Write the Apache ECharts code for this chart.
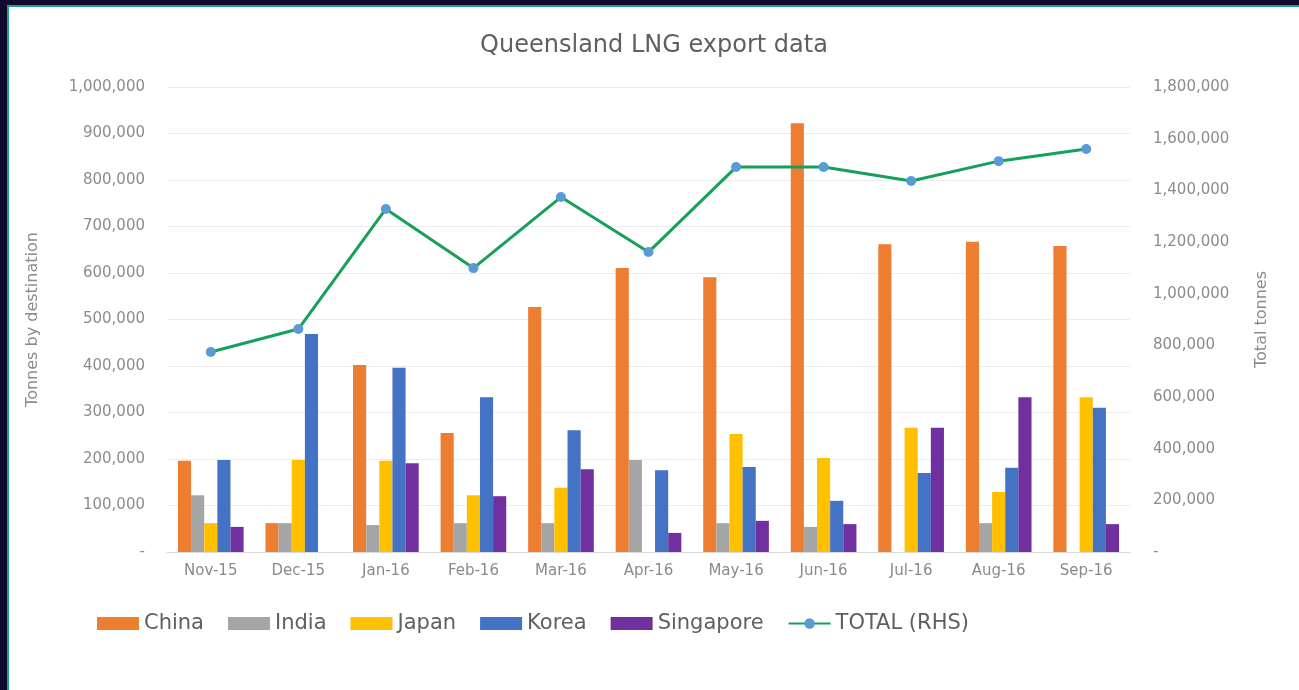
<!DOCTYPE html>
<html>
<head>
<meta charset="utf-8">
<script src="https://cdn.jsdelivr.net/npm/echarts@6/dist/echarts.min.js"></script>
<style>
  html, body { margin: 0; padding: 0; background: #100a2c; overflow: hidden; }
  #frame {
    position: absolute; left: 7px; top: 5px; width: 1290px; height: 683px;
    border-left: 2px solid #1fa08f; border-top: 2px solid #1fa08f;
    background: #fff;
  }
  #chart { width: 100%; height: 100%; }
</style>
</head>
<body>
<div id="frame"><div id="chart"></div></div>
<script>
// months on the x axis
const months = ["Nov-15", "Dec-15", "Jan-16", "Feb-16", "Mar-16", "Apr-16", "May-16", "Jun-16", "Jul-16", "Aug-16", "Sep-16"];

// tonnes by destination
const china     = [196000, 62000, 402000, 256000, 527000, 611000, 591000, 922000, 662000, 667000, 658000];
const india     = [122000, 62000, 58000, 62000, 62000, 198000, 62000, 54000, 0, 62000, 0];
const japan     = [62000, 198000, 196000, 122000, 138000, 0, 254000, 202000, 267000, 129000, 333000];
const korea     = [198000, 469000, 396000, 333000, 262000, 176000, 183000, 110000, 170000, 181000, 310000];
const singapore = [54000, 0, 191000, 120000, 178000, 41000, 67000, 60000, 267000, 333000, 60000];

// total, right hand scale
const total = [774000, 863000, 1328000, 1099000, 1374000, 1161000, 1490000, 1490000, 1436000, 1513000, 1560000];

const font = "DejaVu Sans";
const fmt = v => v === 0 ? "-" : v.toLocaleString("en-US");

const chart = echarts.init(document.getElementById("chart"));

function bar(name, data, color) {
    return {
        name: name,
        type: "bar",
        data: data,
        barGap: "0%",
        barCategoryGap: "25%",
        itemStyle: { color: color },
        animation: false
    };
}

chart.setOption({
    textStyle: { fontFamily: font },
    title: {
        text: "Queensland LNG export data",
        left: "center",
        top: 22,
        textStyle: { fontFamily: font, fontSize: 24, fontWeight: "normal", color: "#5f5f5f" }
    },
    grid: { left: 158, right: 169, top: 80, bottom: 138 },
    legend: {
        left: 83,
        top: 601,
        itemWidth: 42,
        itemHeight: 13,
        itemGap: 24,
        textStyle: { fontSize: 21, color: "#5f5f5f", fontFamily: font },
        data: [
            { name: "China", icon: "rect" },
            { name: "India", icon: "rect" },
            { name: "Japan", icon: "rect" },
            { name: "Korea", icon: "rect" },
            { name: "Singapore", icon: "rect" },
            { name: "TOTAL (RHS)" }
        ]
    },
    xAxis: {
        type: "category",
        data: months,
        axisTick: { show: false },
        axisLine: { lineStyle: { color: "#d9d9d9" } },
        axisLabel: { color: "#8a8a8a", fontSize: 15, margin: 12 }
    },
    yAxis: [
        {
            type: "value",
            min: 0, max: 1000000, interval: 100000,
            name: "Tonnes by destination",
            nameLocation: "middle",
            nameGap: 126,
            nameTextStyle: { color: "#8c8c8c", fontSize: 16 },
            axisLabel: { color: "#8c8c8c", fontSize: 15, margin: 22, formatter: fmt },
            splitLine: { lineStyle: { color: "#ececec" } }
        },
        {
            type: "value",
            min: 0, max: 1800000, interval: 200000,
            name: "Total tonnes",
            nameLocation: "middle",
            nameGap: 124,
            nameRotate: 90,
            nameTextStyle: { color: "#8c8c8c", fontSize: 16 },
            axisLabel: { color: "#8c8c8c", fontSize: 15, margin: 23, formatter: fmt },
            splitLine: { show: false }
        }
    ],
    series: [
        bar("China", china, "#ed7d31"),
        bar("India", india, "#a5a5a5"),
        bar("Japan", japan, "#ffc000"),
        bar("Korea", korea, "#4472c4"),
        bar("Singapore", singapore, "#7030a0"),
        {
            name: "TOTAL (RHS)",
            type: "line",
            yAxisIndex: 1,
            data: total,
            symbol: "circle",
            symbolSize: 10,
            lineStyle: { color: "#16a05a", width: 3 },
            itemStyle: { color: "#5b9bd5" },
            animation: false
        }
    ]
});
</script>
</body>
</html>
